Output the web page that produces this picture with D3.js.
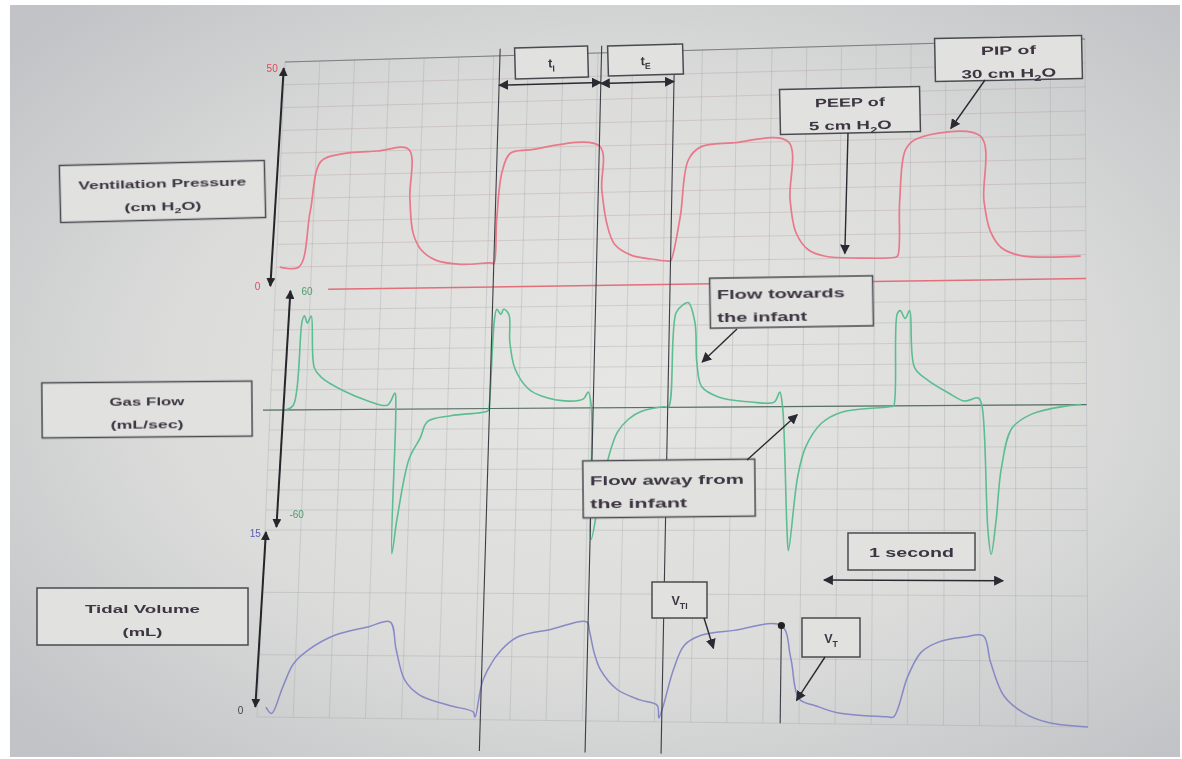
<!DOCTYPE html>
<html lang="en">
<head>
<meta charset="UTF-8">
<title>Ventilator waveforms</title>
<script src="https://d3js.org/d3.v7.min.js"></script>
<style>
  body { margin: 0; background: #fff; }
  svg text { font-family: "Liberation Sans", Arial, sans-serif; }
</style>
</head>
<body>
<svg id="chart" width="1182" height="759"></svg>
<script>
// ---- values (time in s) ----
const pressureTime = [0.02, 0.13, 0.18, 0.23, 0.34, 0.55, 0.73, 0.746, 0.771, 0.82, 0.905, 1.05, 1.22,
  1.236, 1.245, 1.266, 1.31, 1.42, 1.82, 1.84, 1.875, 1.92, 2.015, 2.13, 2.23,
  2.24, 2.29, 2.33, 2.40, 2.58, 2.9, 2.915, 2.95, 3.02, 3.12, 3.32, 3.51,
  3.53, 3.54, 3.57, 3.63, 4.0, 4.02, 4.055, 4.12, 4.23, 4.57];
const pressureValues = [5, 5, 17, 28, 29.5, 30, 30.2, 19.6, 12, 8.3, 6, 5, 5.2,
  5, 14.5, 24.5, 28.8, 29.5, 30, 20.6, 13, 8.8, 6.4, 5.5, 5,
  5, 14.3, 26.5, 29.3, 30, 30, 17.7, 10.7, 7, 5.5, 5, 5,
  5.3, 17, 27.6, 29.9, 30.2, 16.7, 10.4, 6.7, 5, 4.7];

const flowTime = [0.087, 0.13, 0.16, 0.172, 0.19, 0.21, 0.24, 0.285, 0.40, 0.55, 0.66, 0.70, 0.708,
  0.714, 0.737, 0.793, 0.85, 0.89, 1.02, 1.227,
  1.233, 1.261, 1.284, 1.30, 1.33, 1.34, 1.374, 1.453, 1.527, 1.68, 1.764, 1.79, 1.81,
  1.826, 1.865, 1.92, 1.96, 2.02, 2.09, 2.22,
  2.244, 2.277, 2.317, 2.345, 2.385, 2.40, 2.43, 2.525, 2.71, 2.84, 2.87, 2.887,
  2.92, 2.93, 2.977, 3.02, 3.107, 3.22, 3.446, 3.5,
  3.513, 3.53, 3.547, 3.575, 3.60, 3.63, 3.71, 3.82, 3.91, 3.99, 4.01,
  4.045, 4.063, 4.09, 4.12, 4.18, 4.29, 4.48, 4.57];
const flowValues = [0, 2.4, 44.4, 46.9, 43.3, 46.8, 20.8, 15.8, 9.7, 4.2, 2, 8, 0.5,
  -71.7, -54.2, -24.6, -14.6, -6.2, -3.4, -1.1,
  0.3, 48.9, 46.4, 48.9, 46.3, 32.6, 19.4, 9.5, 6.0, 3.4, 4.4, 7.8, 0.3,
  -64.5, -45, -21.9, -12, -5.7, -2, 0.3,
  0, 46.1, 50, 51, 41.2, 21.6, 9.9, 4.9, 2.3, 2.2, 7, 0,
  -58.6, -69.8, -34, -19.6, -8.2, -2.9, -0.8, -0.3,
  0, 44.3, 45.8, 42, 45.8, 18.3, 11.9, 6.1, 2.1, 3.5, 0,
  -60, -71.5, -55.6, -30.2, -11, -4.4, -0.7, 0];

const volumeTime = [0.047, 0.08, 0.135, 0.19, 0.268, 0.413, 0.60, 0.718, 0.757, 0.81, 0.896, 1.063, 1.196,
  1.207, 1.246, 1.34, 1.435, 1.618, 1.812, 1.83, 1.857, 1.896, 1.99, 2.118, 2.213,
  2.224, 2.246, 2.30, 2.357, 2.45, 2.634, 2.896, 2.95, 3.0, 3.09, 3.22, 3.49,
  3.524, 3.60, 3.674, 3.77, 3.913, 4.02, 4.06, 4.135, 4.246, 4.38, 4.6];
const volumeValues = [0.8, 0.3, 2.4, 4.3, 5.4, 6.6, 7.3, 7.7, 5.5, 3.1, 1.9, 1.1, 0.6,
  0.2, 3.2, 5.5, 6.6, 7.2, 7.8, 7.0, 5.4, 4.0, 2.5, 1.7, 1.3,
  0.3, 1.2, 4.1, 6.0, 6.8, 7.2, 7.6, 5.1, 1.9, 1.4, 0.85, 0.6,
  0.6, 3.7, 5.6, 6.4, 6.8, 6.9, 4.9, 2.3, 1.0, 0.3, 0];

const pressureTicks = ["50", "0"];
const flowTicks = ["60", "-60"];
const volumeTicks = ["15", "0"];
const tiSpan = [1.236, 1.82];
const teSpan = [1.82, 2.24];
const guideTimes = [1.236, 1.82, 2.24];
const vtPeak = [2.896, 7.6];
const oneSecond = [3.13, 4.13];

// ---- photo geometry: flat chart -> tilted slide ----
const FW = 800, FH = 655;
const TL = [285, 62], TR = [1085, 39], BR = [1088, 727], BL = [257, 717];
function proj(fx, fy) {
  const u = fx / FW, v = fy / FH;
  return [
    (1 - u) * (1 - v) * TL[0] + u * (1 - v) * TR[0] + u * v * BR[0] + (1 - u) * v * BL[0],
    (1 - u) * (1 - v) * TL[1] + u * (1 - v) * TR[1] + u * v * BR[1] + (1 - u) * v * BL[1]
  ];
}

const x = d3.scaleLinear().domain([0, 4.6]).range([0, FW]);
const yP = d3.scaleLinear().domain([0, 50]).range([228, 0]);
const yF = d3.scaleLinear().domain([-60, 60]).range([468, 228]);
const yV = d3.scaleLinear().domain([0, 15]).range([655, 468]);

const svg = d3.select("#chart");
const defs = svg.append("defs");

const bg = defs.append("radialGradient").attr("id", "bg")
  .attr("cx", "52%").attr("cy", "50%").attr("r", "68%");
bg.append("stop").attr("offset", "0%").attr("stop-color", "#e6e6e4");
bg.append("stop").attr("offset", "55%").attr("stop-color", "#dcdddb");
bg.append("stop").attr("offset", "100%").attr("stop-color", "#c1c3c6");

defs.append("filter").attr("id", "soft")
  .append("feGaussianBlur").attr("stdDeviation", 0.6);

function marker(id, color, size) {
  defs.append("marker").attr("id", id)
    .attr("viewBox", "0 0 10 10").attr("refX", 9).attr("refY", 5)
    .attr("markerWidth", size).attr("markerHeight", size)
    .attr("markerUnits", "userSpaceOnUse")
    .attr("orient", "auto-start-reverse")
    .append("path").attr("d", "M0,0 L10,5 L0,10 z").attr("fill", color);
}
marker("ax", "#26262c", 9);
marker("arr", "#2a2a30", 10);

svg.append("rect").attr("x", 10).attr("y", 5).attr("width", 1170).attr("height", 752)
  .attr("fill", "url(#bg)");

const g = svg.append("g").attr("filter", "url(#soft)");

function flatLine(sel, p0, p1) {
  const a = proj(p0[0], p0[1]), b = proj(p1[0], p1[1]);
  return sel.append("line").attr("x1", a[0]).attr("y1", a[1]).attr("x2", b[0]).attr("y2", b[1]);
}

// ---- grid ----
const grid = g.append("g").attr("stroke", "#9aa0a4").attr("stroke-opacity", 0.33).attr("stroke-width", 1);
d3.range(0, 4.6001, 0.2).forEach(t => flatLine(grid, [x(t), 0], [x(t), FH]));
d3.range(5, 51, 5).forEach(v => flatLine(grid, [0, yP(v)], [FW, yP(v)]).attr("stroke", "#b09498"));
d3.range(-50, 51, 10).forEach(v => flatLine(grid, [0, yF(v)], [FW, yF(v)]));
d3.range(0, 16, 5).forEach(v => flatLine(grid, [0, yV(v)], [FW, yV(v)]));
flatLine(g, [0, 0], [FW, 0]).attr("stroke", "#7a7f83").attr("stroke-width", 1);

// zero lines
flatLine(g, [x(0.3), yP(0)], [FW, yP(0)]).attr("stroke", "#e26e7a").attr("stroke-width", 1.5);
flatLine(g, [-7, yF(0)], [FW, yF(0)]).attr("stroke", "#587066").attr("stroke-width", 1.2);

// ---- traces ----
const lineGen = d3.line().curve(d3.curveCatmullRom.alpha(0.5));
function trace(ts, vs, ys, color, w) {
  const pts = ts.map((t, i) => proj(x(t), ys(vs[i])));
  g.append("path").attr("d", lineGen(pts)).attr("fill", "none")
    .attr("stroke", color).attr("stroke-width", w).attr("stroke-linejoin", "round");
}
trace(pressureTime, pressureValues, yP, "#e8788a", 1.7);
trace(flowTime, flowValues, yF, "#5cbd90", 1.6);
trace(volumeTime, volumeValues, yV, "#8789c6", 1.5);

// ---- guide lines ----
guideTimes.forEach(t => flatLine(g, [x(t), -7], [x(t), 686])
  .attr("stroke", "#3c3c44").attr("stroke-width", 1.1));
flatLine(g, [x(vtPeak[0]), yV(vtPeak[1])], [x(vtPeak[0]), FH])
  .attr("stroke", "#3c3c44").attr("stroke-width", 1.1);
const dot = proj(x(vtPeak[0]), yV(vtPeak[1]));
g.append("circle").attr("cx", dot[0]).attr("cy", dot[1]).attr("r", 3.6).attr("fill", "#222");

// span arrows
function span(t0, t1, fy) {
  flatLine(g, [x(t0), fy], [x(t1), fy]).attr("stroke", "#2a2a30").attr("stroke-width", 1.6)
    .attr("marker-start", "url(#arr)").attr("marker-end", "url(#arr)");
}
span(tiSpan[0], tiSpan[1], 29);
span(teSpan[0], teSpan[1], 30);
span(oneSecond[0], oneSecond[1], 516);

// ---- axes ----
function axisArrow(p0, p1) {
  return flatLine(g, p0, p1).attr("stroke", "#26262c").attr("stroke-width", 2)
    .attr("marker-start", "url(#ax)").attr("marker-end", "url(#ax)");
}
axisArrow([-1, yP(50) + 6], [-5, yP(0) - 4]);
axisArrow([15, yF(60) + 1], [11, yF(-60) - 3]);
axisArrow([1, yV(15) + 2], [-2, yV(0) - 10]);

function axisLabel(fp, dx, dy, text, color, anchor) {
  const p = proj(fp[0], fp[1]);
  g.append("text").attr("x", p[0] + dx).attr("y", p[1] + dy).attr("text-anchor", anchor)
    .attr("font-size", 10).attr("fill", color).text(text);
}
axisLabel([-1, yP(50) + 6], -6, 4, pressureTicks[0], "#e2485a", "end");
axisLabel([-5, yP(0) - 4], -10, 4, pressureTicks[1], "#e2485a", "end");
axisLabel([15, yF(60) + 1], 11, 4, flowTicks[0], "#4e9a6c", "start");
axisLabel([11, yF(-60) - 3], 13, -9, flowTicks[1], "#4e9a6c", "start");
axisLabel([1, yV(15) + 2], -5, 5, volumeTicks[0], "#5b5bb2", "end");
axisLabel([-2, yV(0) - 10], -12, 7, volumeTicks[1], "#444", "end");

// ---- annotation boxes ----
function box(cx, cy, w, h, ang, lines, size, lens, align) {
  const b = g.append("g").attr("transform", `translate(${cx},${cy}) rotate(${ang})`);
  b.append("rect").attr("x", -w / 2).attr("y", -h / 2).attr("width", w).attr("height", h)
    .attr("fill", "#e1e2e0").attr("stroke", "#4a4a50").attr("stroke-width", 1.5);
  const offs = lines.length === 1 ? [1] : [-8, 15];
  lines.forEach((segs, i) => {
    const left = align === "start";
    const t = b.append("text")
      .attr("x", left ? -w / 2 + 7 : 0).attr("y", offs[i])
      .attr("dominant-baseline", "central")
      .attr("text-anchor", left ? "start" : "middle")
      .attr("font-size", size).attr("font-weight", "bold").attr("fill", "#3d3542");
    if (lens && lens[i]) t.attr("textLength", lens[i]).attr("lengthAdjust", "spacingAndGlyphs");
    segs.forEach(s => {
      const ts = t.append("tspan").text(s[0]);
      if (s[1]) ts.attr("baseline-shift", "sub").attr("font-size", size * 0.7);
    });
  });
}
box(162.5, 191.5, 205, 57, -1.4, [[["Ventilation Pressure"]], [["(cm H"], ["2", 1], ["O)"]]], 11.5, [168, 77]);
box(147, 409.5, 210, 55, -0.5, [[["Gas Flow"]], [["(mL/sec)"]]], 11.5, [75, 73]);
box(142.5, 616.5, 211, 57, 0, [[["Tidal Volume"]], [["(mL)"]]], 11.5, [115, 40]);
box(551.5, 62.5, 73, 31, -1.6, [[["t"], ["I", 1]]], 12.5);
box(645.5, 60, 75, 30, -1.6, [[["t"], ["E", 1]]], 12.5);
box(850, 110.5, 140, 45, -1.2, [[["PEEP of"]], [["5 cm H"], ["2", 1], ["O"]]], 12, [70, 83]);
box(1008.5, 58.5, 147, 43, -1.2, [[["PIP of"]], [["30 cm H"], ["2", 1], ["O"]]], 12, [55, 95]);
box(791.5, 302, 163, 50, -0.9, [[["Flow  towards"]], [["the infant"]]], 12.5, [128, 90], "start");
box(669, 488.5, 172, 57, -0.6, [[["Flow  away from"]], [["the  infant"]]], 12.5, [154, 97], "start");
box(911.5, 551.5, 127, 37, 0, [[["1 second"]]], 12.5, [85]);
box(679.5, 600, 55, 36, 0, [[["V"], ["TI", 1]]], 12.5);
box(831, 637.5, 58, 39, 0, [[["V"], ["T", 1]]], 12.5);

// ---- pointer arrows (tips sit on the traces) ----
function pointer(from, tipFlat) {
  const p = proj(tipFlat[0], tipFlat[1]);
  g.append("line").attr("x1", from[0]).attr("y1", from[1]).attr("x2", p[0]).attr("y2", p[1])
    .attr("stroke", "#2a2a30").attr("stroke-width", 1.4).attr("marker-end", "url(#arr)");
}
pointer([848, 133], [x(3.23), yP(6)]);
pointer([985, 80], [x(3.83), yP(32)]);
pointer([737, 329], [x(2.43), yF(22)]);
pointer([747, 460], [x(2.97), yF(-4)]);
pointer([704, 618], [x(2.52), yV(5.8)]);
pointer([825, 657], [x(2.985), yV(1.8)]);
</script>
</body>
</html>
